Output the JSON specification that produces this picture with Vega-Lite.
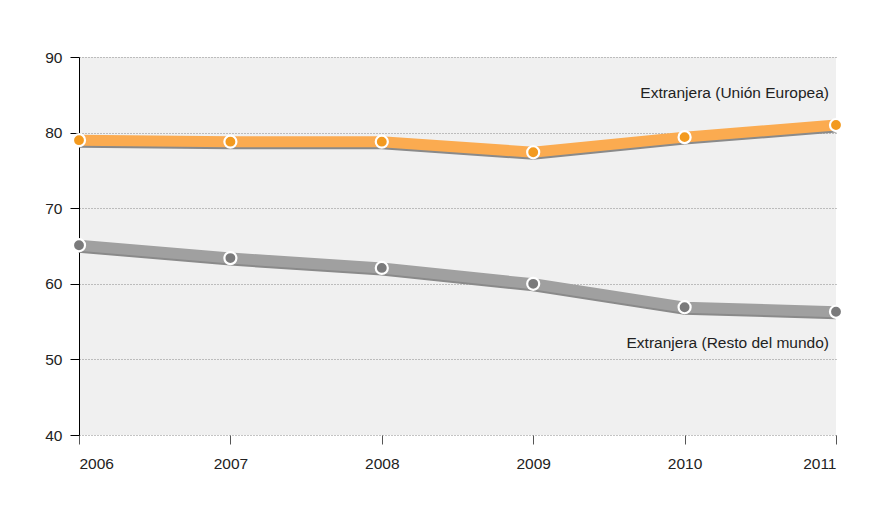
{
  "$schema": "https://vega.github.io/schema/vega-lite/v6.json",
  "width": 757,
  "height": 378,
  "autosize": {"type": "none"},
  "padding": {"left": 79, "top": 57, "right": 43, "bottom": 74},
  "background": "white",
  "config": {
    "font": "Liberation Sans",
    "view": {"fill": "#f0f0f0", "stroke": null},
    "axis": {"labelFont": "Liberation Sans", "labelFontSize": 15.5, "labelColor": "#222", "title": null}
  },
  "datasets": {
    "series": [
      {"year": 2006, "series": "Extranjera (Unión Europea)", "value": 79.0},
      {"year": 2007, "series": "Extranjera (Unión Europea)", "value": 78.8},
      {"year": 2008, "series": "Extranjera (Unión Europea)", "value": 78.8},
      {"year": 2009, "series": "Extranjera (Unión Europea)", "value": 77.4},
      {"year": 2010, "series": "Extranjera (Unión Europea)", "value": 79.4},
      {"year": 2011, "series": "Extranjera (Unión Europea)", "value": 81.0},
      {"year": 2006, "series": "Extranjera (Resto del mundo)", "value": 65.1},
      {"year": 2007, "series": "Extranjera (Resto del mundo)", "value": 63.4},
      {"year": 2008, "series": "Extranjera (Resto del mundo)", "value": 62.1},
      {"year": 2009, "series": "Extranjera (Resto del mundo)", "value": 60.0},
      {"year": 2010, "series": "Extranjera (Resto del mundo)", "value": 56.9},
      {"year": 2011, "series": "Extranjera (Resto del mundo)", "value": 56.3}
    ],
    "labels": [
      {"year": 2011, "value": 85.2, "label": "Extranjera (Unión Europea)"},
      {"year": 2011, "value": 52.2, "label": "Extranjera (Resto del mundo)"}
    ]
  },
  "layer": [
    {
      "data": {"name": "series"},
      "mark": {"type": "line", "strokeWidth": 11, "yOffset": 2, "color": "#8a8a8a", "clip": false},
      "encoding": {
        "x": {"field": "year", "type": "quantitative", "scale": {"domain": [2006, 2011], "nice": false, "zero": false},
          "axis": {"format": "d", "values": [2006, 2007, 2008, 2009, 2010, 2011], "grid": false, "domain": false, "tickColor": "#555", "tickSize": 9, "labelPadding": 12}},
        "y": {"field": "value", "type": "quantitative", "scale": {"domain": [40, 90], "nice": false, "zero": false},
          "axis": {"values": [40, 50, 60, 70, 80, 90], "grid": true, "gridColor": "#888", "gridDash": [1, 2], "gridWidth": 1, "domainColor": "#000", "tickColor": "#000", "tickSize": 9, "labelPadding": 8}},
        "detail": {"field": "series"}
      }
    },
    {
      "data": {"name": "series"},
      "mark": {"type": "line", "strokeWidth": 11, "clip": false},
      "encoding": {
        "x": {"field": "year", "type": "quantitative"},
        "y": {"field": "value", "type": "quantitative"},
        "color": {"field": "series", "type": "nominal", "legend": null,
          "scale": {"domain": ["Extranjera (Unión Europea)", "Extranjera (Resto del mundo)"], "range": ["#fbab50", "#a0a0a0"]}}
      }
    },
    {
      "data": {"name": "series"},
      "mark": {"type": "point", "shape": "circle", "filled": true, "size": 145, "stroke": "#ffffff", "strokeWidth": 2.2, "strokeOpacity": 1, "fillOpacity": 1, "clip": false},
      "encoding": {
        "x": {"field": "year", "type": "quantitative"},
        "y": {"field": "value", "type": "quantitative"},
        "fill": {"field": "series", "type": "nominal", "legend": null,
          "scale": {"domain": ["Extranjera (Unión Europea)", "Extranjera (Resto del mundo)"], "range": ["#f39a1f", "#7a7a7b"]}}
      }
    },
    {
      "data": {"name": "labels"},
      "mark": {"type": "text", "align": "right", "baseline": "middle", "dx": -7, "fontSize": 15.5, "color": "#222", "font": "Liberation Sans"},
      "encoding": {
        "x": {"field": "year", "type": "quantitative"},
        "y": {"field": "value", "type": "quantitative"},
        "text": {"field": "label"}
      }
    }
  ],
  "resolve": {"scale": {"color": "independent"}}
}
